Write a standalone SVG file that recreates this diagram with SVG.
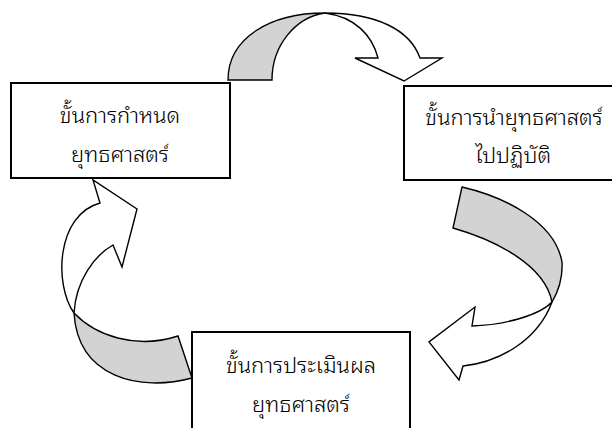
<svg xmlns="http://www.w3.org/2000/svg" width="612" height="428" viewBox="0 0 612 428">
<style>
.box{fill:#ffffff;stroke:#000000;stroke-width:2}
.lbl{font-family:"Noto Sans Thai Looped","Noto Sans Thai","Noto Sans","DejaVu Sans",sans-serif;font-size:22px;font-weight:300;fill:#000000;text-anchor:middle}
.back{fill:#d3d3d3;stroke:#000000;stroke-width:1.4;stroke-linejoin:miter}
.front{fill:#ffffff;stroke:#000000;stroke-width:1.4;stroke-linejoin:miter}
</style>
<rect width="612" height="428" fill="#ffffff"/>
<g id="connectors">
  <g id="arrow-top">
    <path class="back" d="M228,80 C228,38 270,13 325,13 C296,17 272,45 272,80 Z"/>
    <path class="front" d="M325,13 C377,13 410,30 420,58 L442,58 L404,81 L355,58 L378,58 C372,35 355,17 325,13 Z"/>
  </g>
  <g id="arrow-right">
    <path class="back" d="M462,187 C505,197 555,222 562,262 C563,280 558,292 552,302 C545,265 495,240 453,228 Z"/>
    <path class="front" d="M552,302 C538,340 500,362 463,366 L459,380 L429,342 L475,307 L472,326 C505,325 540,315 552,302 Z"/>
  </g>
  <g id="arrow-left">
    <path class="back" d="M74,313 C95,335 135,350 178,336 L192,378 C140,392 78,378 74,313 Z"/>
    <path class="front" d="M74,313 C54,285 56,215 100,203 L93,180 L137,209 L122,267 L113,245 C95,255 76,280 74,313 Z"/>
  </g>
</g>
<g id="node-plan">
  <rect class="box" x="11" y="83" width="219" height="95"/>
  <text class="lbl" x="120" y="123">ขั้นการกำหนด</text>
  <text class="lbl" x="120" y="162">ยุทธศาสตร์</text>
</g>
<g id="node-implement">
  <rect class="box" x="404" y="86" width="212" height="94"/>
  <text class="lbl" x="514" y="125">ขั้นการนำยุทธศาสตร์</text>
  <text class="lbl" x="513" y="163">ไปปฏิบัติ</text>
</g>
<g id="node-evaluate">
  <rect class="box" x="192" y="332" width="218" height="100"/>
  <text class="lbl" x="301" y="373">ขั้นการประเมินผล</text>
  <text class="lbl" x="301" y="412">ยุทธศาสตร์</text>
</g>
</svg>
